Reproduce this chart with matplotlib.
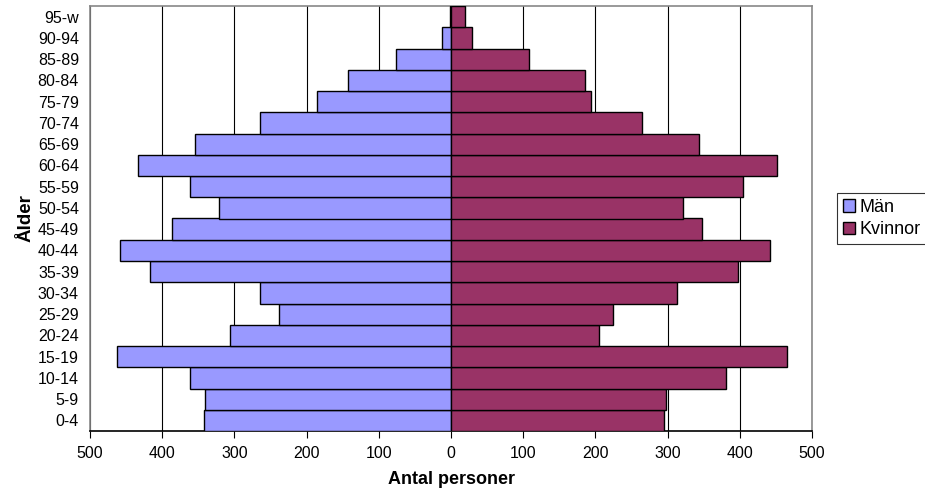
import numpy as np
import matplotlib.pyplot as plt
from matplotlib.ticker import FuncFormatter

plt.rcParams['font.family'] = ['Liberation Sans', 'DejaVu Sans']

# ===================== data =====================
age_groups = ["0-4", "5-9", "10-14", "15-19", "20-24", "25-29", "30-34", "35-39",
              "40-44", "45-49", "50-54", "55-59", "60-64", "65-69", "70-74",
              "75-79", "80-84", "85-89", "90-94", "95-w"]
men = [342, 341, 361, 462, 306, 238, 264, 417, 458, 387,
       322, 361, 433, 355, 265, 185, 143, 76, 12, 1]
women = [295, 298, 381, 465, 205, 225, 313, 397, 442, 348,
         322, 404, 452, 344, 264, 194, 186, 108, 29, 19]

men_color = "#9999FF"
women_color = "#993366"

# ===================== plot =====================
fig = plt.figure(figsize=(9.25, 4.95), dpi=100)
ax = fig.add_axes([90/925, 1 - 431/495, (812-90)/925, (431-6)/495])

y = np.arange(len(age_groups))
ax.barh(y, -np.array(men), height=1.0, color=men_color, edgecolor="black",
        linewidth=1.0, label="Män", zorder=3)
ax.barh(y, women, height=1.0, color=women_color, edgecolor="black",
        linewidth=1.0, label="Kvinnor", zorder=3)

ax.set_xlim(-500, 500)
ax.set_ylim(-0.5, len(age_groups) - 0.5)
ax.set_xticks(np.arange(-500, 501, 100))
ax.xaxis.set_major_formatter(FuncFormatter(lambda v, p: f"{abs(int(v))}"))
ax.set_yticks(y)
ax.set_yticklabels(age_groups)
ax.tick_params(axis="y", length=0, labelsize=11.5, pad=8)
ax.tick_params(axis="x", length=5, direction="out", labelsize=11.5, pad=6,
               color="black")

ax.grid(True, axis="x", color="black", linewidth=0.8, zorder=0)
for s in ax.spines.values():
    s.set_color("#888888")
    s.set_linewidth(1.2)
ax.spines["bottom"].set_color("black")

ax.set_xlabel("Antal personer", fontsize=13, fontweight="bold", labelpad=7)
ax.set_ylabel("Ålder", fontsize=13.5, fontweight="bold", labelpad=2)

leg = ax.legend(loc="center left", bbox_to_anchor=(1.035, 0.5), fontsize=13,
                frameon=True, fancybox=False, edgecolor="black",
                handlelength=0.7, handleheight=0.7, handletextpad=0.25,
                borderpad=0.3, labelspacing=0.3, borderaxespad=0)
leg.get_frame().set_linewidth(0.8)

fig.savefig("out.png", dpi=100)
